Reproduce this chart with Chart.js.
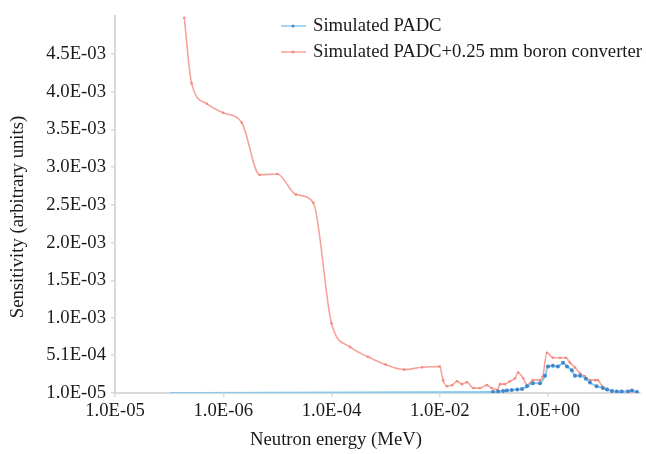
<!DOCTYPE html>
<html>
<head>
  <title>Sensitivity vs neutron energy</title>
  <script src="https://cdn.jsdelivr.net/npm/chart.js"></script>
  <style>
    body { margin: 0; background: #fff; }
  </style>
</head>
<body>
  <canvas id="sens-chart" width="646" height="454"></canvas>

  <script>
    // energy in MeV (log axis), sensitivity in arbitrary units
    const padcEnergy = [1.05e-7, 0.096, 0.12, 0.148, 0.174, 0.214, 0.27, 0.33, 0.41, 0.525, 0.71, 0.88, 1.0, 1.23, 1.52, 1.89, 2.24, 2.75, 3.15, 3.9, 5.0, 5.96, 7.9, 10.3, 12.3, 15.2, 18.7, 23, 30, 35.5, 44];
    const padcSens = [1.0e-5, 2.3e-5, 2.9e-5, 3.6e-5, 4.2e-5, 4.9e-5, 5.5e-5, 6.2e-5, 1.0e-4, 1.4e-4, 1.4e-4, 2.4e-4, 3.6e-4, 3.7e-4, 3.6e-4, 4.1e-4, 3.6e-4, 3.1e-4, 2.4e-4, 2.4e-4, 2.0e-4, 1.5e-4, 1.0e-4, 7.5e-5, 5.5e-5, 3.6e-5, 2.9e-5, 2.9e-5, 2.9e-5, 4.2e-5, 2.3e-5];

    const boronEnergy = [1.9e-7, 2.6e-7, 5.0e-7, 1e-6, 2.2e-6, 4.7e-6, 1e-5, 2.2e-5, 4.6e-5, 1e-4, 2.2e-4, 4.7e-4, 1e-3, 2.2e-3, 4.7e-3, 1e-2, 1.15e-2, 1.36e-2, 1.69e-2, 2.09e-2, 2.57e-2, 3.16e-2, 4.2e-2, 5.5e-2, 7.4e-2, 9.1e-2, 0.115, 0.13, 0.158, 0.198, 0.245, 0.279, 0.347, 0.41, 0.465, 0.525, 0.71, 0.795, 0.955, 1.23, 1.66, 2.14, 2.54, 3.15, 3.9, 4.8, 5.96, 7.4, 8.3, 10, 12.3, 15.2, 21, 32, 44];
    const boronSens = [4.98e-3, 4.11e-3, 3.84e-3, 3.72e-3, 3.59e-3, 2.90e-3, 2.91e-3, 2.64e-3, 2.53e-3, 9.3e-4, 6.2e-4, 4.9e-4, 3.86e-4, 3.2e-4, 3.5e-4, 3.6e-4, 1.8e-4, 1.0e-4, 1.14e-4, 1.66e-4, 1.27e-4, 1.53e-4, 7.5e-5, 7.5e-5, 1.14e-4, 7.5e-5, 4.9e-5, 1.27e-4, 1.27e-4, 1.66e-4, 2.05e-4, 2.82e-4, 2.05e-4, 1.14e-4, 1.40e-4, 1.8e-4, 1.8e-4, 2.2e-4, 5.42e-4, 4.77e-4, 4.77e-4, 4.77e-4, 4.12e-4, 3.47e-4, 2.69e-4, 2.3e-4, 1.8e-4, 1.8e-4, 1.8e-4, 1.0e-4, 6.2e-5, 3.6e-5, 2.3e-5, 3.6e-5, 1.0e-5];

    // tick labels as printed on the original figure
    const xTickValues = [1e-8, 1e-6, 1e-4, 1e-2, 1];
    const xTickLabels = ["1.0E-05", "1.0E-06", "1.0E-04", "1.0E-02", "1.0E+00"];
    const yTickLabels = ["1.0E-05", "5.1E-04", "1.0E-03", "1.5E-03", "2.0E-03", "2.5E-03", "3.0E-03", "3.5E-03", "4.0E-03", "4.5E-03"];

    const serif = '"Liberation Serif", "Times New Roman", serif';
    const axisGray = "#d9d9d9";
    const textColor = "#1a1a1a";

    function toPoints(xs, ys) {
      return xs.map((x, i) => ({ x: x, y: ys[i] }));
    }

    // legend and axis titles drawn by hand so they can sit where the original has them
    const overlayPlugin = {
      id: "overlay",
      afterDraw(chart) {
        const ctx = chart.ctx;
        ctx.save();
        ctx.font = "18.7px " + serif;
        ctx.textBaseline = "middle";
        chart.data.datasets.forEach((ds, i) => {
          const y = 26 + i * 26;
          ctx.strokeStyle = ds.borderColor;
          ctx.lineWidth = 1.5;
          ctx.beginPath();
          ctx.moveTo(281, y);
          ctx.lineTo(306, y);
          ctx.stroke();
          ctx.fillStyle = ds.pointBackgroundColor;
          ctx.beginPath();
          ctx.arc(293, y, 1.5, 0, Math.PI * 2);
          ctx.fill();
          ctx.fillStyle = textColor;
          ctx.textAlign = "left";
          ctx.fillText(ds.label, 313, y);
        });

        ctx.textAlign = "center";
        ctx.fillText("Neutron energy (MeV)", 336, 440);
        ctx.translate(18, 217);
        ctx.rotate(-Math.PI / 2);
        ctx.fillText("Sensitivity (arbitrary units)", 0, 0);
        ctx.restore();
      }
    };

    new Chart(document.getElementById("sens-chart"), {
      type: "line",
      data: {
        datasets: [
          {
            label: "Simulated PADC",
            data: toPoints(padcEnergy, padcSens),
            borderColor: "#86cdec",
            borderWidth: 2,
            pointBackgroundColor: "#4286cc",
            pointBorderWidth: 0,
            pointRadius: (c) => (c.dataIndex === 0 ? 0 : 2),
            cubicInterpolationMode: "monotone"
          },
          {
            label: "Simulated PADC+0.25 mm boron converter",
            data: toPoints(boronEnergy, boronSens),
            borderColor: "#f7a39a",
            borderWidth: 1.6,
            pointBackgroundColor: "#f28a7f",
            pointBorderWidth: 0,
            pointRadius: 1.3,
            cubicInterpolationMode: "monotone"
          }
        ]
      },
      options: {
        responsive: false,
        animation: false,
        devicePixelRatio: 1,
        layout: { padding: { top: 8, right: 6, left: 0, bottom: 0 } },
        plugins: {
          legend: { display: false },
          tooltip: { enabled: false }
        },
        scales: {
          x: {
            type: "logarithmic",
            min: 1e-8,
            max: 50,
            afterFit(scale) { scale.height = 61; },
            afterBuildTicks(scale) {
              scale.ticks = xTickValues.map((v) => ({ value: v }));
            },
            ticks: {
              autoSkip: false,
              maxRotation: 0,
              padding: 3,
              color: textColor,
              font: { family: serif, size: 18.7 },
              callback: (value, index) => xTickLabels[index]
            },
            grid: { drawOnChartArea: false, drawTicks: true, tickLength: 4, color: axisGray, lineWidth: 1.5 },
            border: { display: true, color: axisGray, width: 2 }
          },
          y: {
            min: 1e-5,
            max: 5.0e-3,
            afterFit(scale) { scale.width = 115; },
            afterBuildTicks(scale) {
              scale.ticks = yTickLabels.map((t) => ({ value: Number(t) }));
            },
            ticks: {
              autoSkip: false,
              padding: 5,
              color: textColor,
              font: { family: serif, size: 18.7 },
              callback: (value, index) => yTickLabels[index]
            },
            grid: { drawOnChartArea: false, drawTicks: true, tickLength: 4, color: axisGray, lineWidth: 1.5 },
            border: { display: true, color: axisGray, width: 2 }
          }
        }
      },
      plugins: [overlayPlugin]
    });
  </script>
</body>
</html>
